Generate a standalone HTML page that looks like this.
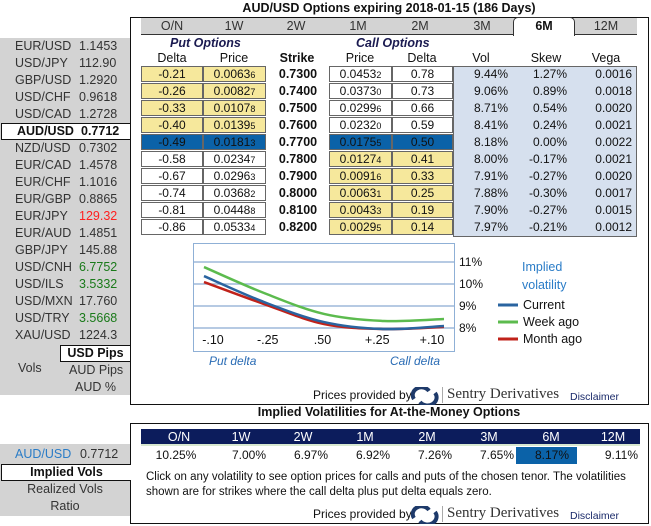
<!DOCTYPE html>
<html><head><meta charset="utf-8"><style>
*{box-sizing:border-box;margin:0;padding:0}
body{width:651px;height:526px;background:#fff;font-family:"Liberation Sans",Arial,sans-serif;font-size:12px;color:#111;position:relative;overflow:hidden}
.a{position:absolute}
.c{text-align:center}
.cell{position:absolute;height:16px;border:1px solid #666;text-align:center;line-height:14px;font-size:12px}
.y{background:#f6e89c}.w{background:#fff}.h{background:#0b62a8;color:#111}
.lp{position:absolute;left:0;width:130px;height:17px;line-height:17px;font-size:12.5px;color:#333}
.lp span{position:absolute}
sub{font-size:9px;vertical-align:baseline}
</style></head><body>
<div class="a" style="left:0;top:38px;width:130px;height:357px;background:#d3d3d3"></div>
<div class="a" style="left:0;top:444px;width:130px;height:72px;background:#d3d3d3"></div>
<div id="pairs"></div>
<div class="a" style="left:60px;top:345px;width:70px;height:17px;background:#fff;border:1px solid #111;border-right:none;font-weight:bold;font-size:12.5px;text-align:center;line-height:15px">USD Pips</div>
<div class="a" style="left:18px;top:361px;font-size:12.5px;color:#333">Vols</div>
<div class="a" style="left:69px;top:363px;font-size:12.5px;color:#333">AUD Pips</div>
<div class="a" style="left:75px;top:380px;font-size:12.5px;color:#333">AUD %</div>

<div class="a" style="left:130px;top:1px;width:518px;text-align:center;font-weight:bold;font-size:12.5px">AUD/USD Options expiring 2018-01-15 (186 Days)</div>
<div class="a" style="left:130px;top:17px;width:519px;height:388px;border:1px solid #111;border-left:1.5px solid #111"></div>
<div class="a" style="left:141px;top:18px;width:496px;height:17px;background:#d3d3d3;border-bottom:1px solid #333"></div>
<div id="tabs"></div>

<div class="a" style="left:170px;top:36px;font-weight:bold;font-style:italic;font-size:12.5px;color:#1a1a50">Put Options</div>
<div class="a" style="left:356px;top:36px;font-weight:bold;font-style:italic;font-size:12.5px;color:#1a1a50">Call Options</div>
<div id="colheads"></div>
<div class="a" style="left:453px;top:66px;width:184px;height:171px;background:#d6e0ee;border:1px solid #666"></div>
<div id="rows"></div>

<svg class="a" style="left:0;top:0" width="651" height="526" id="chart"></svg>

<div class="a" style="left:522px;top:258px;color:#2a7cc7;font-size:12.5px;line-height:18px">Implied<br>volatility</div>
<div class="a" style="left:209px;top:354px;color:#2a6cb5;font-style:italic">Put delta</div>
<div class="a" style="left:390px;top:354px;color:#2a6cb5;font-style:italic">Call delta</div>

<div class="a" style="left:313px;top:388px;font-size:12px">Prices provided by</div>
<svg class="a" style="left:411px;top:387px" width="28" height="18"><path d="M3 12 A8 7 0 0 1 18 4" stroke="#1e3a6a" stroke-width="4" fill="none"/><path d="M24 6 A8 7 0 0 1 9 15" stroke="#1e3a6a" stroke-width="4" fill="none"/></svg>
<div class="a" style="left:442px;top:387px;width:1px;height:16px;background:#aaa"></div>
<div class="a" style="left:447px;top:386px;font-family:'Liberation Serif',serif;font-size:15px;color:#333">Sentry Derivatives</div>
<div class="a" style="left:570px;top:391px;font-size:10.5px;color:#1a2a6a">Disclaimer</div>

<div class="a" style="left:130px;top:405px;width:518px;text-align:center;font-weight:bold;font-size:12.5px">Implied Volatilities for At-the-Money Options</div>
<div class="a" style="left:130px;top:423px;width:519px;height:101px;border:1px solid #111;border-left:1.5px solid #111"></div>
<div class="a" style="left:141px;top:429px;width:499px;height:17px;background:#0c1c5c;border-bottom:2px solid #d8e8d0"></div>
<div id="atm"></div>
<div class="a" style="left:146px;top:470px;font-size:11.5px;line-height:15px;width:500px">Click on any volatility to see option prices for calls and puts of the chosen tenor. The volatilities shown are for strikes where the call delta plus put delta equals zero.</div>
<div class="a" style="left:313px;top:507px;font-size:12px">Prices provided by</div>
<svg class="a" style="left:411px;top:506px" width="28" height="18"><path d="M3 12 A8 7 0 0 1 18 4" stroke="#1e3a6a" stroke-width="4" fill="none"/><path d="M24 6 A8 7 0 0 1 9 15" stroke="#1e3a6a" stroke-width="4" fill="none"/></svg>
<div class="a" style="left:442px;top:506px;width:1px;height:16px;background:#aaa"></div>
<div class="a" style="left:447px;top:505px;font-family:'Liberation Serif',serif;font-size:15px;color:#333">Sentry Derivatives</div>
<div class="a" style="left:570px;top:510px;font-size:10.5px;color:#1a2a6a">Disclaimer</div>

<div class="a" style="left:15px;top:447px;font-size:12.5px;color:#2a7cc7">AUD/USD</div>
<div class="a" style="left:80px;top:447px;font-size:12.5px;color:#333">0.7712</div>
<div class="a" style="left:1px;top:464px;width:130px;height:17px;background:#fff;border:1px solid #111;border-right:none;font-weight:bold;font-size:12.5px;text-align:center;line-height:15px">Implied Vols</div>
<div class="a" style="left:0;top:482px;width:130px;text-align:center;font-size:12.5px;color:#333">Realized Vols</div>
<div class="a" style="left:0;top:499px;width:130px;text-align:center;font-size:12.5px;color:#333">Ratio</div>

<script>
const pairs=["EUR/USD","USD/JPY","GBP/USD","USD/CHF","USD/CAD","AUD/USD","NZD/USD","EUR/CAD","EUR/CHF","EUR/GBP","EUR/JPY","EUR/AUD","GBP/JPY","USD/CNH","USD/ILS","USD/MXN","USD/TRY","XAU/USD"];
const rates=["1.1453","112.90","1.2920","0.9618","1.2728","0.7712","0.7302","1.4578","1.1016","0.8865","129.32","1.4851","145.88","6.7752","3.5332","17.760","3.5668","1224.3"];
const rateColors={10:"#ff2020",13:"#1a7a1a",14:"#1a7a1a",16:"#1a7a1a"};
const P=document.getElementById('pairs');
pairs.forEach((p,i)=>{
  const d=document.createElement('div');d.className='lp';d.style.top=(38+i*17)+'px';
  
  
  if(i===5){d.style.background='#fff';d.style.border='1px solid #111';d.style.borderRight='none';d.style.fontWeight='bold';d.style.color='#111';d.style.lineHeight='15px';d.style.left='1px';}
  d.innerHTML='<span style="left:'+(p.length>7?13:15)+'px">'+p+'</span><span style="left:79px;color:'+(rateColors[i]||'inherit')+'">'+rates[i]+'</span>';
  P.appendChild(d);
});
const tabs=["O/N","1W","2W","1M","2M","3M","6M","12M"];
const T=document.getElementById('tabs');
tabs.forEach((t,i)=>{
  const d=document.createElement('div');d.className='a c';
  
  
  const x=141+i*62;d.style.left=x+'px';d.style.width='62px';d.style.top='18px';d.style.height='17px';d.style.lineHeight='16px';d.style.fontSize='12.5px';d.style.color='#333';
  if(t==='6M'){d.style.background='#fff';d.style.border='1px solid #333';d.style.borderBottom='none';d.style.borderRadius='5px 5px 0 0';d.style.fontWeight='bold';d.style.color='#111';d.style.left='513px';d.style.top='17px';d.style.height='19px';}
  d.textContent=t;T.appendChild(d);
});
const heads=[["Delta",172],["Price",234],["Strike",297],["Price",360],["Delta",422],["Vol",481],["Skew",546],["Vega",606]];
const H=document.getElementById('colheads');
heads.forEach(([t,x])=>{const d=document.createElement('div');d.className='a c';
  
  
  d.style.left=(x-30)+'px';d.style.width='60px';d.style.top='51px';d.style.fontSize='12.5px';if(t==='Strike')d.style.fontWeight='bold';d.textContent=t;H.appendChild(d);});
const putDelta=["-0.21","-0.26","-0.33","-0.40","-0.49","-0.58","-0.67","-0.74","-0.81","-0.86"];
const putPrice=["0.0063|6","0.0082|7","0.0107|8","0.0139|5","0.0181|3","0.0234|7","0.0296|3","0.0368|2","0.0448|8","0.0533|4"];
const strikes=["0.7300","0.7400","0.7500","0.7600","0.7700","0.7800","0.7900","0.8000","0.8100","0.8200"];
const callPrice=["0.0453|2","0.0373|0","0.0299|6","0.0232|0","0.0175|5","0.0127|4","0.0091|6","0.0063|1","0.0043|3","0.0029|5"];
const callDelta=["0.78","0.73","0.66","0.59","0.50","0.41","0.33","0.25","0.19","0.14"];
const vols=["9.44%","9.06%","8.71%","8.41%","8.18%","8.00%","7.91%","7.88%","7.90%","7.97%"];
const skews=["1.27%","0.89%","0.54%","0.24%","0.00%","-0.17%","-0.27%","-0.30%","-0.27%","-0.21%"];
const vegas=["0.0016","0.0018","0.0020","0.0021","0.0022","0.0021","0.0020","0.0017","0.0015","0.0012"];
const R=document.getElementById('rows');
const pr=s=>{const [a,b]=s.split('|');return a+'<sub>'+b+'</sub>';};
strikes.forEach((s,i)=>{
  const y=66+i*17;
  const putCls=i<4?'y':i===4?'h':'w', callCls=i<4?'w':i===4?'h':'y';
  const mk=(cls,x,w,html,name)=>{const d=document.createElement('div');d.className='cell '+cls;d.style.left=x+'px';d.style.top=y+'px';d.style.width=w+'px';d.innerHTML=html;
    
    R.appendChild(d);};
  mk(putCls,141,62,putDelta[i],'put-delta-'+i);
  mk(putCls,203,63,pr(putPrice[i]),'put-price-'+i);
  mk(callCls,329,63,pr(callPrice[i]),'call-price-'+i);
  mk(callCls,392,61,callDelta[i],'call-delta-'+i);
  const t=(x,w,txt,name,al,bold)=>{const d=document.createElement('div');d.className='a';d.style.left=x+'px';d.style.width=w+'px';d.style.top=(y+1)+'px';d.style.textAlign=al;d.style.fontSize=bold?'12.5px':'12px';if(bold)d.style.fontWeight='bold';d.textContent=txt;
    
    R.appendChild(d);};
  t(267,62,s,'strike-'+i,'center',true);
  t(453,55,vols[i],'vol-'+i,'right');
  t(510,57,skews[i],'skew-'+i,'right');
  t(577,55,vegas[i],'vega-'+i,'right');
});
const atmTenors=tabs;
const atmVols=["10.25%","7.00%","6.97%","6.92%","7.26%","7.65%","8.17%","9.11%"];
const A=document.getElementById('atm');
atmTenors.forEach((t,i)=>{
  const x=148+i*62;
  const h=document.createElement('div');h.className='a c';h.style.left=x+'px';h.style.width='62px';h.style.top='430px';h.style.color='#fff';h.style.fontSize='12.5px';h.textContent=t;
  
  A.appendChild(h);
  const v=document.createElement('div');v.className='a';v.style.left=x+'px';v.style.width='62px';v.style.top='447px';v.style.height='17px';v.style.lineHeight='17px';v.style.textAlign=i===0?'center':'right';v.style.paddingRight='6px';v.textContent=atmVols[i];
  if(i===6){v.style.background='#0b62a8';v.style.left='516px';v.style.width='61px';v.style.paddingRight='8px';}
  
  A.appendChild(v);
});

// chart
const deltaLabels=["-.10","-.25",".50","+.25","+.10"];
const yTicks=[8,9,10,11];
const current=[10.36,9.18,8.27,7.95,8.09];
const weekAgo=[10.77,9.59,8.64,8.32,8.41];
const monthAgo=[10.09,9.09,8.18,7.95,8.05];
const NS='http://www.w3.org/2000/svg';
const S=document.getElementById('chart');
const xS=i=>204+i*60, yS=v=>328-(v-8)*22, xL=i=>213+i*54.75;
const el=(tag,attrs,name)=>{const e=document.createElementNS(NS,tag);for(const k in attrs)e.setAttribute(k,attrs[k]);
  
  S.appendChild(e);return e;};
el('rect',{x:193.5,y:243.5,width:261,height:108,fill:'#fff',stroke:'#8fb0d6'},'chart-frame');
yTicks.forEach(v=>{el('line',{x1:194,x2:454,y1:yS(v),y2:yS(v),stroke:'#9db8da','stroke-width':1.5},'gridline-'+v);
  const t=el('text',{x:459,y:yS(v)+4,'font-size':12,'font-family':'Liberation Sans, sans-serif',fill:'#111'},'y-tick-'+v);t.textContent=v+'%';});
deltaLabels.forEach((l,i)=>{const t=el('text',{x:xL(i),y:344,'font-size':12.5,'font-family':'Liberation Sans, sans-serif','text-anchor':'middle',fill:'#111'},'x-tick-'+i);t.textContent=l;});
function path(vals){const p=vals.map((v,i)=>[xS(i),yS(v)]);let d='M'+p[0][0]+' '+p[0][1];
  for(let i=0;i<p.length-1;i++){const p0=p[i-1]||p[i],p1=p[i],p2=p[i+1],p3=p[i+2]||p2;
    d+=' C'+(p1[0]+(p2[0]-p0[0])/6)+' '+(p1[1]+(p2[1]-p0[1])/6)+' '+(p2[0]-(p3[0]-p1[0])/6)+' '+(p2[1]-(p3[1]-p1[1])/6)+' '+p2[0]+' '+p2[1];}
  return d;}
el('path',{d:path(weekAgo),fill:'none',stroke:'#5cbb4e','stroke-width':2.5},'series-week-ago');
el('path',{d:path(monthAgo),fill:'none',stroke:'#c0221a','stroke-width':2.5},'series-month-ago');
el('path',{d:path(current),fill:'none',stroke:'#2a64a0','stroke-width':2.5},'series-current');
[["Current",'#2a64a0',305],["Week ago",'#5cbb4e',322],["Month ago",'#c0221a',339]].forEach(([n,c,y])=>{
  el('line',{x1:498,x2:518,y1:y,y2:y,stroke:c,'stroke-width':3},'legend-swatch-'+n.toLowerCase().replace(' ','-'));
  const t=el('text',{x:523,y:y+4,'font-size':12.5,'font-family':'Liberation Sans, sans-serif',fill:'#111'},'legend-entry-'+n.toLowerCase().replace(' ','-'));t.textContent=n;});
</script>
</body></html>
